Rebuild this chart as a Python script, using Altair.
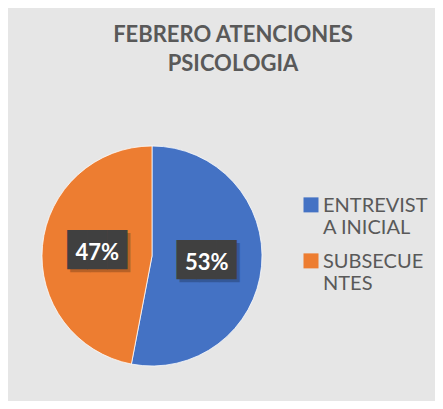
import altair as alt
import pandas as pd

categories = ["ENTREVISTA INICIAL", "SUBSECUENTES"]
percentages = [53, 47]
label_texts = ["53%", "47%"]
slice_colors = ["#4472C4", "#ED7D31"]

df = pd.DataFrame({
    "categoria": categories,
    "valor": percentages,
    "etiqueta": label_texts,
    "orden": list(range(len(categories))),
})

theta = alt.Theta("valor:Q", stack=True)
order = alt.Order("orden:Q")

base = alt.Chart(df)

pie = base.mark_arc(stroke="white", strokeWidth=0.75).encode(
    theta=theta,
    order=order,
    color=alt.Color(
        "categoria:N",
        scale=alt.Scale(domain=categories, range=slice_colors),
        legend=alt.Legend(
            title=None,
            orient="none",
            legendX=259,
            legendY=56,
            padding=0,
            symbolType="M-1,-1.95H1V0.05H-1Z",
            symbolSize=225,
            symbolStrokeWidth=0,
            labelFont="Lato",
            labelFontSize=20,
            labelColor="#595959",
            labelBaseline="alphabetic",
            labelOffset=2,
            labelLimit=300,
            rowPadding=14,
            labelExpr="datum.label == 'ENTREVISTA INICIAL' ? ['ENTREVIST', 'A INICIAL'] : ['SUBSECUE', 'NTES']",
        ),
    ),
)

shadow = base.mark_text(
    radius=55, text="\u2588\u2588\u2588", font="DejaVu Sans Mono", fontSize=33,
    color="black", opacity=0.22, dx=3, dy=3,
).encode(theta=theta, order=order)

box = base.mark_text(
    radius=55, text="\u2588\u2588\u2588", font="DejaVu Sans Mono", fontSize=33,
    color="#404040",
).encode(theta=theta, order=order)

labels = base.mark_text(
    radius=55, font="Lato", fontWeight="bold", fontSize=22, color="white", dy=2,
).encode(theta=theta, order=order, text="etiqueta:N")

chart = alt.layer(pie, shadow, box, labels).properties(
    width=220,
    height=220,
    autosize=alt.AutoSizeParams(type="none"),
    padding={"left": 34, "top": 138, "right": 173, "bottom": 35},
    background="#e6e6e6",
    title=alt.Title(
        ["FEBRERO ATENCIONES", "PSICOLOGIA"],
        anchor="middle",
        frame="group",
        dx=81,
        offset=69,
        font="Lato",
        fontSize=22,
        fontWeight="bold",
        lineHeight=29,
        color="#595959",
    ),
).configure_view(stroke=None)

chart.save("out.html", embed_options={"renderer": "svg", "actions": False})
